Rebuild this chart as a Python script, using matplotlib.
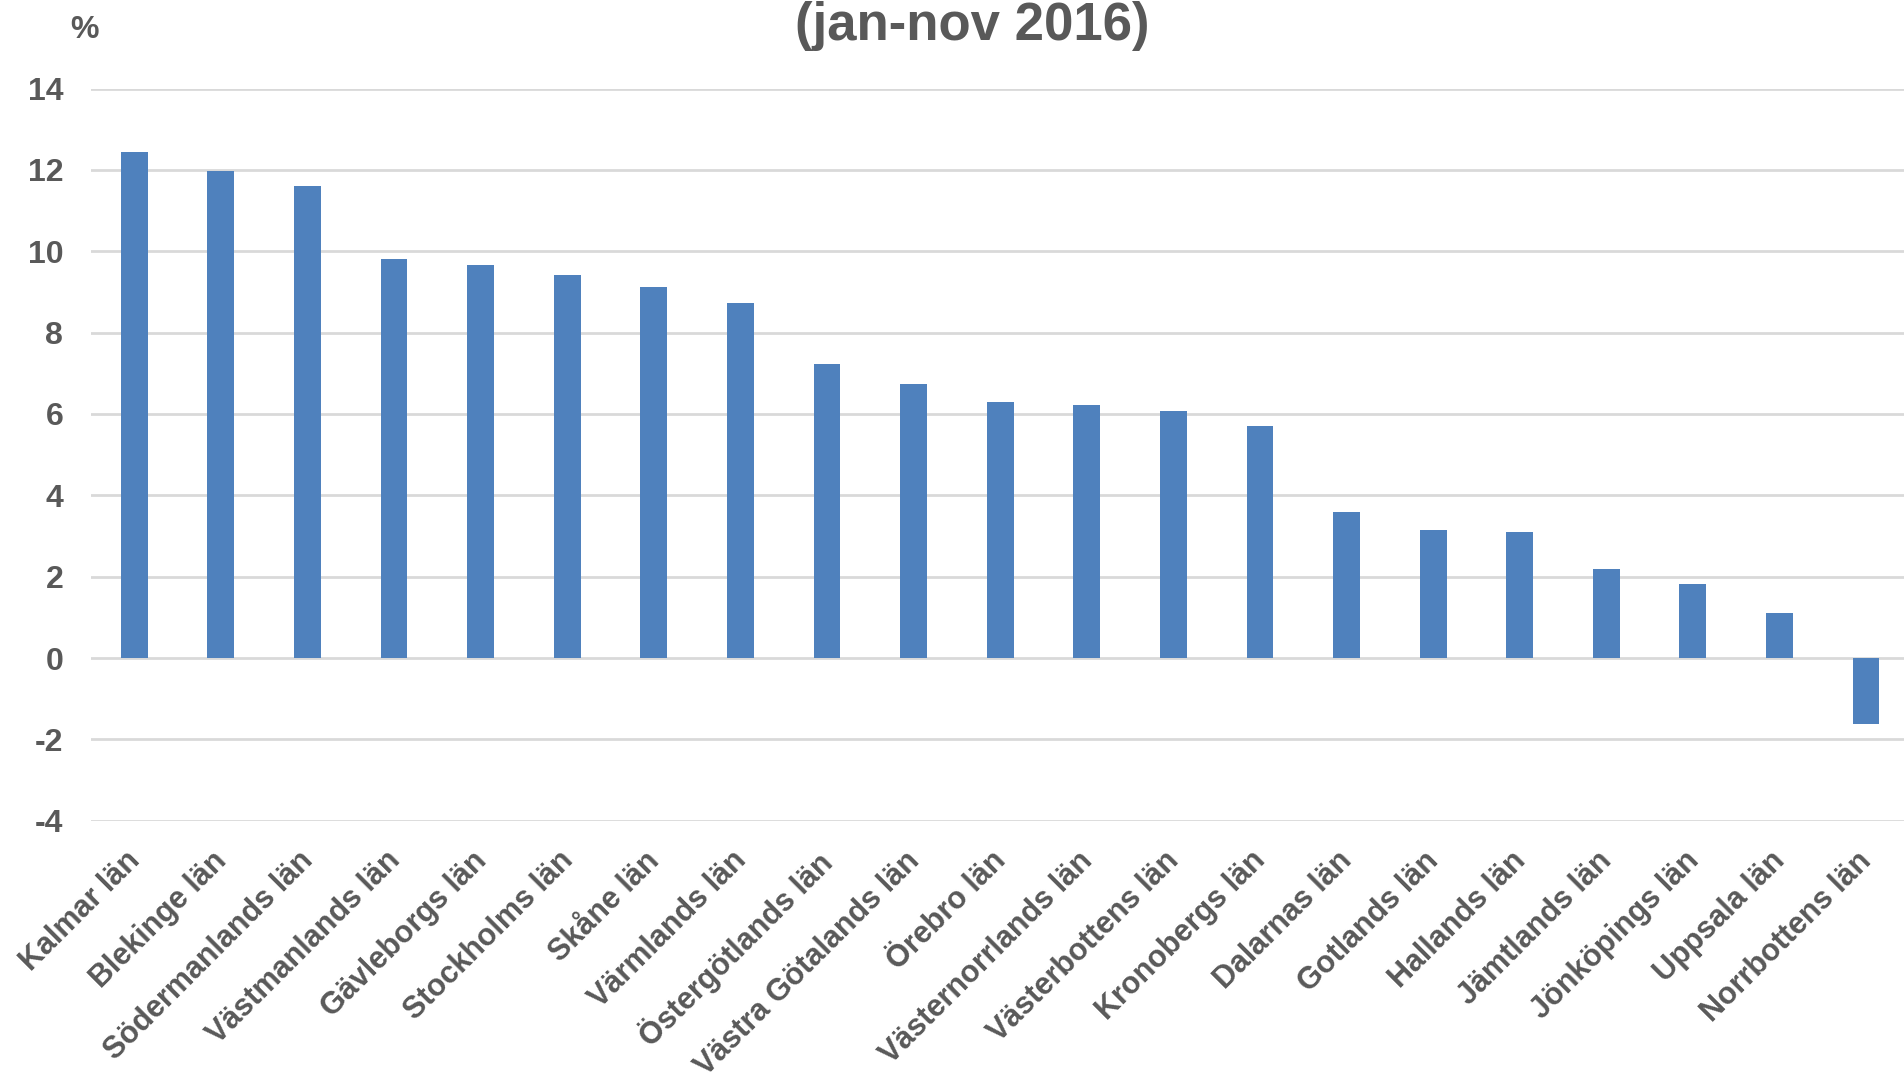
import matplotlib.pyplot as plt
import matplotlib.transforms as mtransforms
import numpy as np

# data
lan = ["Kalmar län", "Blekinge län", "Södermanlands län", "Västmanlands län",
       "Gävleborgs län", "Stockholms län", "Skåne län", "Värmlands län",
       "Östergötlands län", "Västra Götalands län", "Örebro län",
       "Västernorrlands län", "Västerbottens län", "Kronobergs län",
       "Dalarnas län", "Gotlands län", "Hallands län", "Jämtlands län",
       "Jönköpings län", "Uppsala län", "Norrbottens län"]
values = [12.45, 11.98, 11.6, 9.8, 9.66, 9.42, 9.12, 8.72, 7.24, 6.74, 6.3,
          6.21, 6.07, 5.7, 3.6, 3.15, 3.1, 2.2, 1.81, 1.1, -1.62]
y_ticks = [-4, -2, 0, 2, 4, 6, 8, 10, 12, 14]

""" Style """
text_col = "#595959"
bar_col = "#4F81BD"
grid_col = "#D9D9D9"
font_size = 23
xlab_size = 22

plt.rcParams["font.family"] = ["Liberation Sans", "DejaVu Sans"]
plt.rcParams["font.weight"] = "bold"

fig = plt.figure(figsize=(19.04, 10.83), dpi=100)
ax = fig.add_axes([0.0478, 0.2422, 0.955, 0.676])

x = np.arange(len(lan))
ax.bar(x, values, width=0.31, color=bar_col, zorder=3)

ax.set_xlim(-0.5, len(lan) - 0.5)
ax.set_ylim(-4, 14)
ax.set_yticks(y_ticks)
ax.set_yticklabels([str(t) for t in y_ticks], fontsize=font_size, color=text_col,
                   fontweight="bold")
ax.set_xticks([])

# slanted category labels, top-right corner just right of each bar centre
base = mtransforms.blended_transform_factory(ax.transData, ax.transAxes)
offset = mtransforms.ScaledTranslation(12 / 100, -25 / 100, fig.dpi_scale_trans)
for i, name in enumerate(lan):
    ax.text(x[i], 0, name, transform=base + offset, rotation=45, ha="right",
            va="top", fontsize=xlab_size, color=text_col, fontweight="bold")

ax.tick_params(axis="y", length=0, pad=20)
ax.grid(axis="y", color=grid_col, linewidth=2, zorder=0)
for s in ax.spines.values():
    s.set_visible(False)

fig.text(0.0446, 0.965, "%", fontsize=font_size, color=text_col, fontweight="bold",
         ha="center", va="baseline")
fig.text(0.5105, 0.963, "(jan-nov 2016)", fontsize=38, color=text_col,
         fontweight="bold", ha="center", va="baseline")

plt.savefig("out.png", dpi=100)
